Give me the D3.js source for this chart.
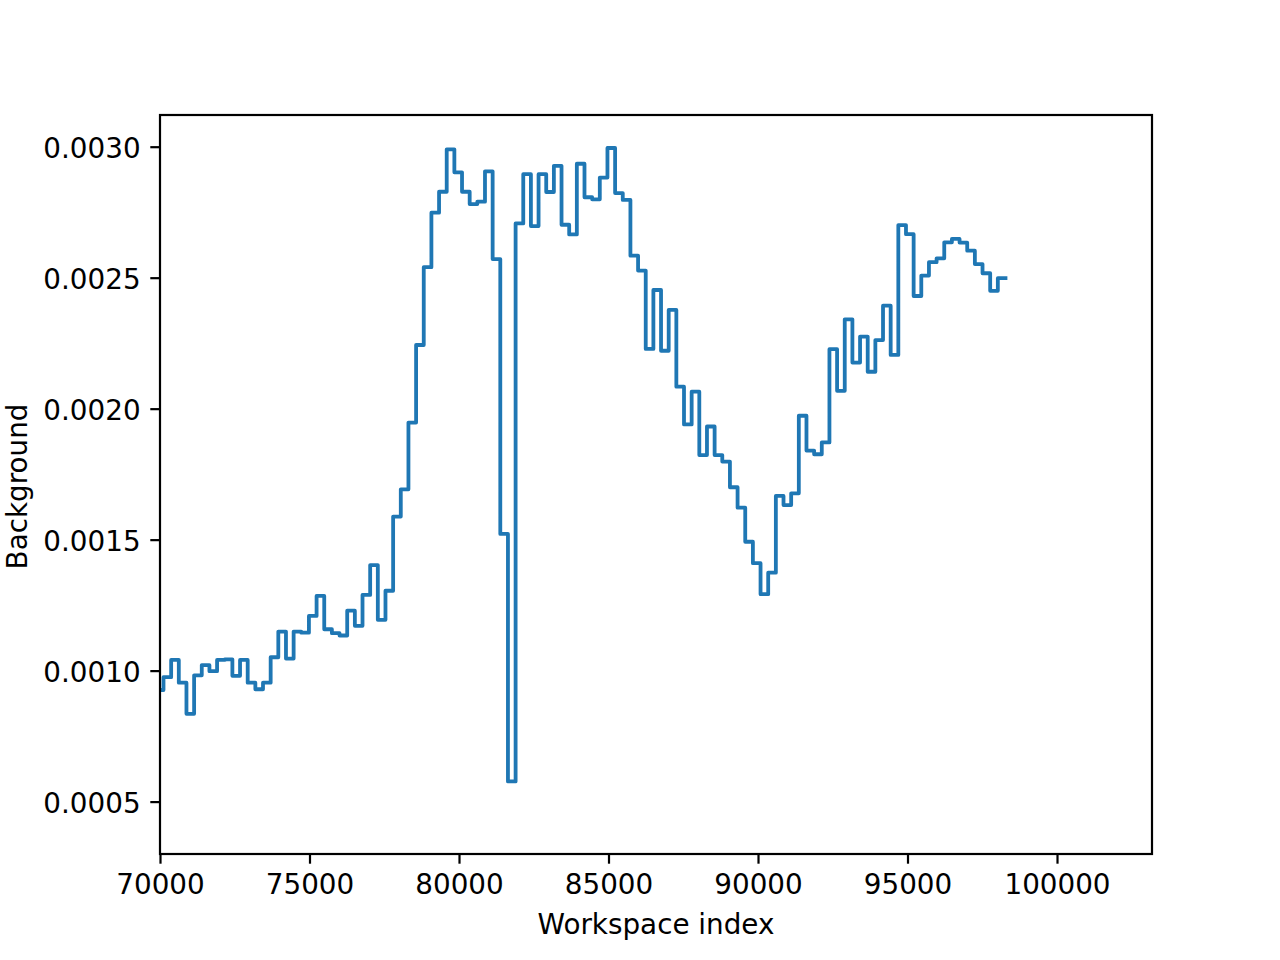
<!DOCTYPE html>
<html>
<head>
<meta charset="utf-8">
<script src="https://cdn.jsdelivr.net/npm/d3@7"></script>
<style>
  body { margin: 0; background: #fff; }
  text { font-family: "DejaVu Sans", sans-serif; fill: #000; }
</style>
</head>
<body>
<div id="plot"></div>
<script>
// start of each step (workspace index), last entry closes the final step
const binStarts = [69861,
  70117, 70373, 70629, 70885, 71141, 71397, 71653, 71909, 72165, 72421,
  72677, 72933, 73189, 73445, 73701, 73957, 74213, 74469, 74725, 74981,
  75237, 75493, 75749, 76005, 76261, 76517, 76773, 77029, 77285, 77541,
  77797, 78053, 78309, 78565, 78821, 79077, 79333, 79589, 79845, 80101,
  80357, 80613, 80869, 81125, 81381, 81637, 81893, 82149, 82405, 82661,
  82917, 83173, 83429, 83685, 83941, 84197, 84453, 84709, 84965, 85221,
  85477, 85733, 85989, 86245, 86501, 86757, 87013, 87269, 87525, 87781,
  88037, 88293, 88549, 88805, 89061, 89317, 89573, 89829, 90085, 90341,
  90597, 90853, 91109, 91365, 91621, 91877, 92133, 92389, 92645, 92901,
  93157, 93413, 93669, 93925, 94181, 94437, 94693, 94949, 95205, 95461,
  95717, 95973, 96229, 96485, 96741, 96997, 97253, 97509, 97765, 98021,
  98277];

// background value of each step
const background = [0.000926,
  0.000975, 0.001041, 0.000954, 0.000835, 0.000982, 0.001021, 0.000998, 0.001041, 0.001043, 0.000980,
  0.001041, 0.000954, 0.000929, 0.000954, 0.001051, 0.001149, 0.001046, 0.001149, 0.001145, 0.001209,
  0.001285, 0.001158, 0.001143, 0.001134, 0.001229, 0.001171, 0.001289, 0.001403, 0.001194, 0.001305,
  0.001588, 0.001692, 0.001947, 0.002243, 0.002540, 0.002748, 0.002828, 0.002990, 0.002902, 0.002828,
  0.002781, 0.002790, 0.002906, 0.002571, 0.001522, 0.000577, 0.002707, 0.002895, 0.002697, 0.002895,
  0.002827, 0.002927, 0.002702, 0.002665, 0.002935, 0.002807, 0.002799, 0.002882, 0.002995, 0.002823,
  0.002797, 0.002584, 0.002527, 0.002228, 0.002453, 0.002221, 0.002377, 0.002084, 0.001940, 0.002065,
  0.001823, 0.001932, 0.001823, 0.001798, 0.001700, 0.001622, 0.001492, 0.001410, 0.001292, 0.001374,
  0.001667, 0.001632, 0.001677, 0.001973, 0.001840, 0.001826, 0.001871, 0.002227, 0.002068, 0.002341,
  0.002176, 0.002275, 0.002141, 0.002262, 0.002393, 0.002205, 0.002701, 0.002666, 0.002430, 0.002508,
  0.002559, 0.002574, 0.002635, 0.002648, 0.002634, 0.002603, 0.002552, 0.002517, 0.002450, 0.002498];

const xTicks = [70000, 75000, 80000, 85000, 90000, 95000, 100000];
const yTicks = [0.0005, 0.0010, 0.0015, 0.0020, 0.0025, 0.0030];
const xDomain = [70000, 103177];
const yDomain = [0.000300, 0.003121];

const W = 1280, H = 960;
const margin = {top: 115, right: 128, bottom: 106, left: 160},
  width = W - margin.left - margin.right,
  height = H - margin.top - margin.bottom;

const fontSize = 27.8, tickLen = 9.7, tickPad = 9.7;

const svg = d3.select('#plot')
  .append("svg")
    .attr("width", W)
    .attr("height", H);

const g = svg.append("g")
  .attr("transform", `translate(${margin.left},${margin.top})`);

const x = d3.scaleLinear().domain(xDomain).range([0, width]);
const y = d3.scaleLinear().domain(yDomain).range([height, 0]);

svg.append("defs").append("clipPath").attr("id", "clip")
  .append("rect").attr("width", width).attr("height", height);

// the step line: each value holds until the next bin start
const pts = background.map((v, i) => [binStarts[i], v]);
pts.push([binStarts[binStarts.length - 1], background[background.length - 1]]);

const line = d3.line()
  .x(d => x(d[0]))
  .y(d => y(d[1]))
  .curve(d3.curveStepAfter);

g.append("path")
  .datum(pts)
  .attr("clip-path", "url(#clip)")
  .attr("d", line)
  .style("fill", "none")
  .style("stroke", "#1f77b4")
  .style("stroke-width", 3.8)
  .style("stroke-linejoin", "round")
  .style("stroke-linecap", "square");

// axes
const xAxis = g.append("g")
  .attr("transform", `translate(0,${height})`)
  .call(d3.axisBottom(x).tickValues(xTicks).tickFormat(d3.format("d"))
    .tickSize(tickLen).tickPadding(tickPad));
const yAxis = g.append("g")
  .call(d3.axisLeft(y).tickValues(yTicks).tickFormat(d3.format(".4f"))
    .tickSize(tickLen).tickPadding(tickPad));

[xAxis, yAxis].forEach(a => {
  a.select(".domain").remove();
  a.selectAll(".tick line").attr("stroke", "#000").attr("stroke-width", 2.2);
  a.selectAll(".tick text")
    .style("font-size", fontSize + "px")
    .style("font-family", "DejaVu Sans")
    .attr("fill", "#000");
});
xAxis.selectAll(".tick text").attr("dy", null).attr("y", tickLen + tickPad)
  .attr("dominant-baseline", "hanging");
yAxis.selectAll(".tick text").attr("dy", "0.38em");

// frame
g.append("rect")
  .attr("width", width)
  .attr("height", height)
  .style("fill", "none")
  .style("stroke", "#000")
  .style("stroke-width", 2.2);

// labels
svg.append("text")
  .attr("x", margin.left + width / 2)
  .attr("y", 934)
  .attr("text-anchor", "middle")
  .style("font-size", fontSize + "px")
  .text("Workspace index");

svg.append("text")
  .attr("transform", `translate(27,${margin.top + height / 2 + 2}) rotate(-90)`)
  .attr("text-anchor", "middle")
  .style("font-size", fontSize + "px")
  .text("Background");
</script>
</body>
</html>
